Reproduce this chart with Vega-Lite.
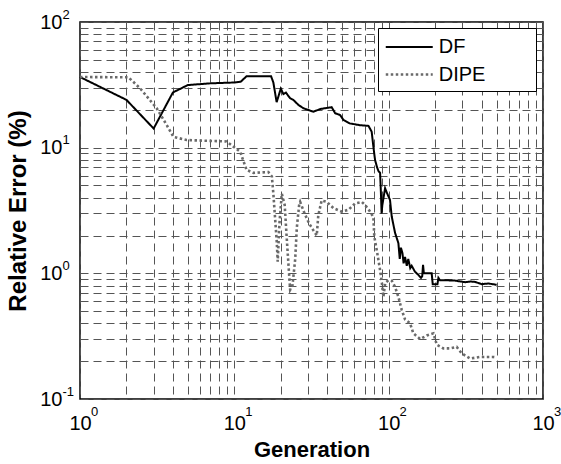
{
  "$schema": "https://vega.github.io/schema/vega-lite/v6.json",
  "width": 463,
  "height": 377,
  "autosize": {"type": "none"},
  "padding": {"left": 80, "top": 22, "right": 18, "bottom": 65},
  "background": "white",
  "config": {
    "font": "Liberation Sans",
    "view": {"stroke": "black", "strokeWidth": 1.5},
    "legend": {
      "orient": "none",
      "legendX": 298,
      "legendY": 6,
      "strokeColor": "black",
      "fillColor": "white",
      "padding": 6,
      "labelFont": "Liberation Sans",
      "labelFontSize": 20,
      "labelColor": "black",
      "labelLimit": 0,
      "labelOffset": 16,
      "symbolType": "M-2,0H2",
      "symbolSize": 552,
      "symbolOffset": 11.75,
      "rowPadding": 4
    }
  },
  "data": {
    "values": [
      {"gen": 1, "err": 36.5, "series": "DF"},
      {"gen": 2, "err": 24, "series": "DF"},
      {"gen": 3, "err": 14.2, "series": "DF"},
      {"gen": 4, "err": 27.5, "series": "DF"},
      {"gen": 5, "err": 31.5, "series": "DF"},
      {"gen": 7, "err": 32.5, "series": "DF"},
      {"gen": 10, "err": 33, "series": "DF"},
      {"gen": 11, "err": 33.5, "series": "DF"},
      {"gen": 12, "err": 37, "series": "DF"},
      {"gen": 17.3, "err": 37, "series": "DF"},
      {"gen": 17.9, "err": 33, "series": "DF"},
      {"gen": 18.8, "err": 23, "series": "DF"},
      {"gen": 20, "err": 29.5, "series": "DF"},
      {"gen": 20.8, "err": 26.7, "series": "DF"},
      {"gen": 21.6, "err": 27.4, "series": "DF"},
      {"gen": 23, "err": 24.7, "series": "DF"},
      {"gen": 24.1, "err": 24, "series": "DF"},
      {"gen": 26, "err": 21.9, "series": "DF"},
      {"gen": 28, "err": 20.6, "series": "DF"},
      {"gen": 30, "err": 20, "series": "DF"},
      {"gen": 32.5, "err": 19.3, "series": "DF"},
      {"gen": 36, "err": 20.3, "series": "DF"},
      {"gen": 42.7, "err": 21, "series": "DF"},
      {"gen": 45, "err": 18.8, "series": "DF"},
      {"gen": 48.4, "err": 18.2, "series": "DF"},
      {"gen": 51, "err": 16.6, "series": "DF"},
      {"gen": 56, "err": 15.6, "series": "DF"},
      {"gen": 65, "err": 15.1, "series": "DF"},
      {"gen": 74, "err": 14.9, "series": "DF"},
      {"gen": 77.6, "err": 13.4, "series": "DF"},
      {"gen": 79.6, "err": 10.2, "series": "DF"},
      {"gen": 81.6, "err": 8, "series": "DF"},
      {"gen": 84, "err": 7, "series": "DF"},
      {"gen": 86, "err": 6.5, "series": "DF"},
      {"gen": 88, "err": 6.3, "series": "DF"},
      {"gen": 89, "err": 4.5, "series": "DF"},
      {"gen": 90, "err": 3.0, "series": "DF"},
      {"gen": 91, "err": 3.5, "series": "DF"},
      {"gen": 94.8, "err": 4.75, "series": "DF"},
      {"gen": 97.2, "err": 4.4, "series": "DF"},
      {"gen": 102, "err": 3.84, "series": "DF"},
      {"gen": 104.7, "err": 2.83, "series": "DF"},
      {"gen": 110, "err": 2.1, "series": "DF"},
      {"gen": 115.6, "err": 1.74, "series": "DF"},
      {"gen": 118, "err": 1.3, "series": "DF"},
      {"gen": 120, "err": 1.6, "series": "DF"},
      {"gen": 122.8, "err": 1.45, "series": "DF"},
      {"gen": 125, "err": 1.2, "series": "DF"},
      {"gen": 127.7, "err": 1.35, "series": "DF"},
      {"gen": 131, "err": 1.15, "series": "DF"},
      {"gen": 134, "err": 1.3, "series": "DF"},
      {"gen": 138, "err": 1.1, "series": "DF"},
      {"gen": 141, "err": 1.15, "series": "DF"},
      {"gen": 148, "err": 1.03, "series": "DF"},
      {"gen": 156, "err": 0.97, "series": "DF"},
      {"gen": 162, "err": 0.92, "series": "DF"},
      {"gen": 165, "err": 0.95, "series": "DF"},
      {"gen": 167, "err": 1.17, "series": "DF"},
      {"gen": 169, "err": 1.0, "series": "DF"},
      {"gen": 190, "err": 1.0, "series": "DF"},
      {"gen": 193, "err": 0.82, "series": "DF"},
      {"gen": 207, "err": 0.82, "series": "DF"},
      {"gen": 210, "err": 0.92, "series": "DF"},
      {"gen": 215, "err": 0.88, "series": "DF"},
      {"gen": 240, "err": 0.88, "series": "DF"},
      {"gen": 269, "err": 0.875, "series": "DF"},
      {"gen": 313, "err": 0.85, "series": "DF"},
      {"gen": 340, "err": 0.86, "series": "DF"},
      {"gen": 363, "err": 0.855, "series": "DF"},
      {"gen": 401, "err": 0.82, "series": "DF"},
      {"gen": 443, "err": 0.83, "series": "DF"},
      {"gen": 501, "err": 0.81, "series": "DF"},
      {"gen": 1, "err": 36.5, "series": "DIPE"},
      {"gen": 2.06, "err": 36.3, "series": "DIPE"},
      {"gen": 2.45, "err": 29.7, "series": "DIPE"},
      {"gen": 3.14, "err": 20.6, "series": "DIPE"},
      {"gen": 3.65, "err": 15.1, "series": "DIPE"},
      {"gen": 4.03, "err": 12.2, "series": "DIPE"},
      {"gen": 4.9, "err": 11.5, "series": "DIPE"},
      {"gen": 8.9, "err": 11.2, "series": "DIPE"},
      {"gen": 9.86, "err": 10.2, "series": "DIPE"},
      {"gen": 10.9, "err": 9.3, "series": "DIPE"},
      {"gen": 12, "err": 6.65, "series": "DIPE"},
      {"gen": 13.3, "err": 6.3, "series": "DIPE"},
      {"gen": 16.6, "err": 6.4, "series": "DIPE"},
      {"gen": 17.5, "err": 5.9, "series": "DIPE"},
      {"gen": 17.9, "err": 4.3, "series": "DIPE"},
      {"gen": 18.4, "err": 2.66, "series": "DIPE"},
      {"gen": 18.8, "err": 1.85, "series": "DIPE"},
      {"gen": 19.1, "err": 1.24, "series": "DIPE"},
      {"gen": 19.6, "err": 2.5, "series": "DIPE"},
      {"gen": 20.3, "err": 4.3, "series": "DIPE"},
      {"gen": 21.2, "err": 3.5, "series": "DIPE"},
      {"gen": 21.8, "err": 2.0, "series": "DIPE"},
      {"gen": 22.4, "err": 1.2, "series": "DIPE"},
      {"gen": 23.0, "err": 0.74, "series": "DIPE"},
      {"gen": 23.8, "err": 0.8, "series": "DIPE"},
      {"gen": 24.8, "err": 1.3, "series": "DIPE"},
      {"gen": 25.4, "err": 2.3, "series": "DIPE"},
      {"gen": 26.3, "err": 3.5, "series": "DIPE"},
      {"gen": 26.7, "err": 3.7, "series": "DIPE"},
      {"gen": 28.5, "err": 3.0, "series": "DIPE"},
      {"gen": 30.5, "err": 2.5, "series": "DIPE"},
      {"gen": 32.5, "err": 2.2, "series": "DIPE"},
      {"gen": 34.2, "err": 2.0, "series": "DIPE"},
      {"gen": 35, "err": 2.9, "series": "DIPE"},
      {"gen": 36.8, "err": 3.8, "series": "DIPE"},
      {"gen": 39.7, "err": 3.7, "series": "DIPE"},
      {"gen": 43.9, "err": 3.3, "series": "DIPE"},
      {"gen": 49.6, "err": 3.1, "series": "DIPE"},
      {"gen": 54.8, "err": 3.2, "series": "DIPE"},
      {"gen": 60.6, "err": 3.6, "series": "DIPE"},
      {"gen": 66.9, "err": 3.7, "series": "DIPE"},
      {"gen": 70.3, "err": 3.5, "series": "DIPE"},
      {"gen": 75.7, "err": 3.1, "series": "DIPE"},
      {"gen": 79.6, "err": 2.8, "series": "DIPE"},
      {"gen": 80.7, "err": 1.96, "series": "DIPE"},
      {"gen": 83.7, "err": 1.53, "series": "DIPE"},
      {"gen": 85.8, "err": 1.28, "series": "DIPE"},
      {"gen": 88, "err": 1.06, "series": "DIPE"},
      {"gen": 90, "err": 0.88, "series": "DIPE"},
      {"gen": 92.4, "err": 0.65, "series": "DIPE"},
      {"gen": 95, "err": 0.84, "series": "DIPE"},
      {"gen": 99.5, "err": 0.88, "series": "DIPE"},
      {"gen": 105, "err": 0.87, "series": "DIPE"},
      {"gen": 110, "err": 0.78, "series": "DIPE"},
      {"gen": 115.6, "err": 0.65, "series": "DIPE"},
      {"gen": 121.6, "err": 0.51, "series": "DIPE"},
      {"gen": 127.7, "err": 0.43, "series": "DIPE"},
      {"gen": 137.6, "err": 0.4, "series": "DIPE"},
      {"gen": 144.5, "err": 0.333, "series": "DIPE"},
      {"gen": 160, "err": 0.3, "series": "DIPE"},
      {"gen": 176.6, "err": 0.32, "series": "DIPE"},
      {"gen": 195, "err": 0.333, "series": "DIPE"},
      {"gen": 205, "err": 0.27, "series": "DIPE"},
      {"gen": 226, "err": 0.253, "series": "DIPE"},
      {"gen": 250, "err": 0.253, "series": "DIPE"},
      {"gen": 276, "err": 0.26, "series": "DIPE"},
      {"gen": 297, "err": 0.231, "series": "DIPE"},
      {"gen": 337, "err": 0.21, "series": "DIPE"},
      {"gen": 391, "err": 0.216, "series": "DIPE"},
      {"gen": 477, "err": 0.216, "series": "DIPE"},
      {"gen": 501, "err": 0.214, "series": "DIPE"}
    ]
  },
  "resolve": {"axis": {"x": "independent", "y": "independent"}},
  "layer": [
    {
      "mark": {"type": "line", "strokeCap": "butt"},
      "encoding": {
        "x": {
          "field": "gen",
          "type": "quantitative",
          "scale": {"type": "log", "domain": [1, 1000], "nice": false},
          "axis": {
            "orient": "bottom",
            "title": "Generation",
            "values": [1, 2, 3, 4, 5, 6, 7, 8, 9, 10, 20, 30, 40, 50, 60, 70, 80, 90, 100, 200, 300, 400, 500, 600, 700, 800, 900, 1000],
            "labelExpr": "datum.value == 1 || datum.value == 10 || datum.value == 100 || datum.value == 1000 ? '10' : ''",
            "grid": true,
            "gridColor": "#555555",
            "gridDash": [8, 5],
            "gridWidth": 1,
            "ticks": false,
            "domain": false,
            "labelFontSize": 20,
            "labelColor": "black",
            "labelPadding": 14,
            "labelFlush": false,
            "labelOverlap": false,
            "labelBound": false,
            "titleFontSize": 22,
            "titleFontWeight": "bold",
            "titleColor": "black",
            "titlePadding": 6
          }
        },
        "y": {
          "field": "err",
          "type": "quantitative",
          "scale": {"type": "log", "domain": [0.1, 100], "nice": false},
          "axis": {
            "orient": "left",
            "title": "Relative Error (%)",
            "values": [0.1, 0.2, 0.3, 0.4, 0.5, 0.6, 0.7, 0.8, 0.9, 1, 2, 3, 4, 5, 6, 7, 8, 9, 10, 20, 30, 40, 50, 60, 70, 80, 90, 100],
            "labelExpr": "datum.value == 0.1 || datum.value == 1 || datum.value == 10 || datum.value == 100 ? '10' : ''",
            "grid": true,
            "gridColor": "#555555",
            "gridDash": [8, 5],
            "gridWidth": 1,
            "ticks": false,
            "domain": false,
            "labelFontSize": 20,
            "labelColor": "black",
            "labelPadding": 18,
            "labelAlign": "right",
            "labelBaseline": "middle",
            "labelFlush": false,
            "labelOverlap": false,
            "labelBound": false,
            "titleFontSize": 24,
            "titleFontWeight": "bold",
            "titleColor": "black",
            "titlePadding": 9
          }
        },
        "color": {
          "field": "series",
          "type": "nominal",
          "scale": {"domain": ["DF", "DIPE"], "range": ["#000000", "#6a6a6a"]},
          "legend": {"title": null, "labelExpr": "datum.label == 'DIPE' ? 'DIPE\u00a0\u00a0\u00a0\u00a0\u00a0\u00a0\u00a0\u00a0\u200b' : datum.label"}
        },
        "strokeDash": {
          "field": "series",
          "type": "nominal",
          "scale": {"domain": ["DF", "DIPE"], "range": [[1, 0], [2.5, 2.5]]},
          "legend": {"title": null, "labelExpr": "datum.label == 'DIPE' ? 'DIPE\u00a0\u00a0\u00a0\u00a0\u00a0\u00a0\u00a0\u00a0\u200b' : datum.label"}
        },
        "strokeWidth": {
          "field": "series",
          "type": "nominal",
          "scale": {"domain": ["DF", "DIPE"], "range": [2, 2.6]},
          "legend": {"title": null, "labelExpr": "datum.label == 'DIPE' ? 'DIPE\u00a0\u00a0\u00a0\u00a0\u00a0\u00a0\u00a0\u00a0\u200b' : datum.label"}
        }
      }
    },
    {
      "mark": {"type": "point", "opacity": 0},
      "encoding": {
        "x": {
          "field": "gen",
          "type": "quantitative",
          "axis": {
            "orient": "bottom",
            "title": null,
            "values": [1, 10, 100, 1000],
            "labelExpr": "datum.value < 5 ? '0' : datum.value < 50 ? '1' : datum.value < 500 ? '2' : '3'",
            "grid": false,
            "ticks": false,
            "domain": false,
            "labelFontSize": 13,
            "labelColor": "black",
            "labelAlign": "center",
            "labelOffset": 14,
            "labelPadding": 6,
            "labelFlush": false,
            "labelOverlap": false,
            "labelBound": false
          }
        },
        "y": {
          "field": "err",
          "type": "quantitative",
          "axis": {
            "orient": "left",
            "title": null,
            "values": [0.1, 1, 10, 100],
            "labelExpr": "datum.value < 0.5 ? '-1' : datum.value < 5 ? '0' : datum.value < 50 ? '1' : '2'",
            "grid": false,
            "ticks": false,
            "domain": false,
            "labelFontSize": 13,
            "labelColor": "black",
            "labelAlign": "left",
            "labelBaseline": "middle",
            "labelPadding": 18,
            "labelOffset": -8,
            "labelFlush": false,
            "labelOverlap": false,
            "labelBound": false
          }
        }
      }
    }
  ]
}
